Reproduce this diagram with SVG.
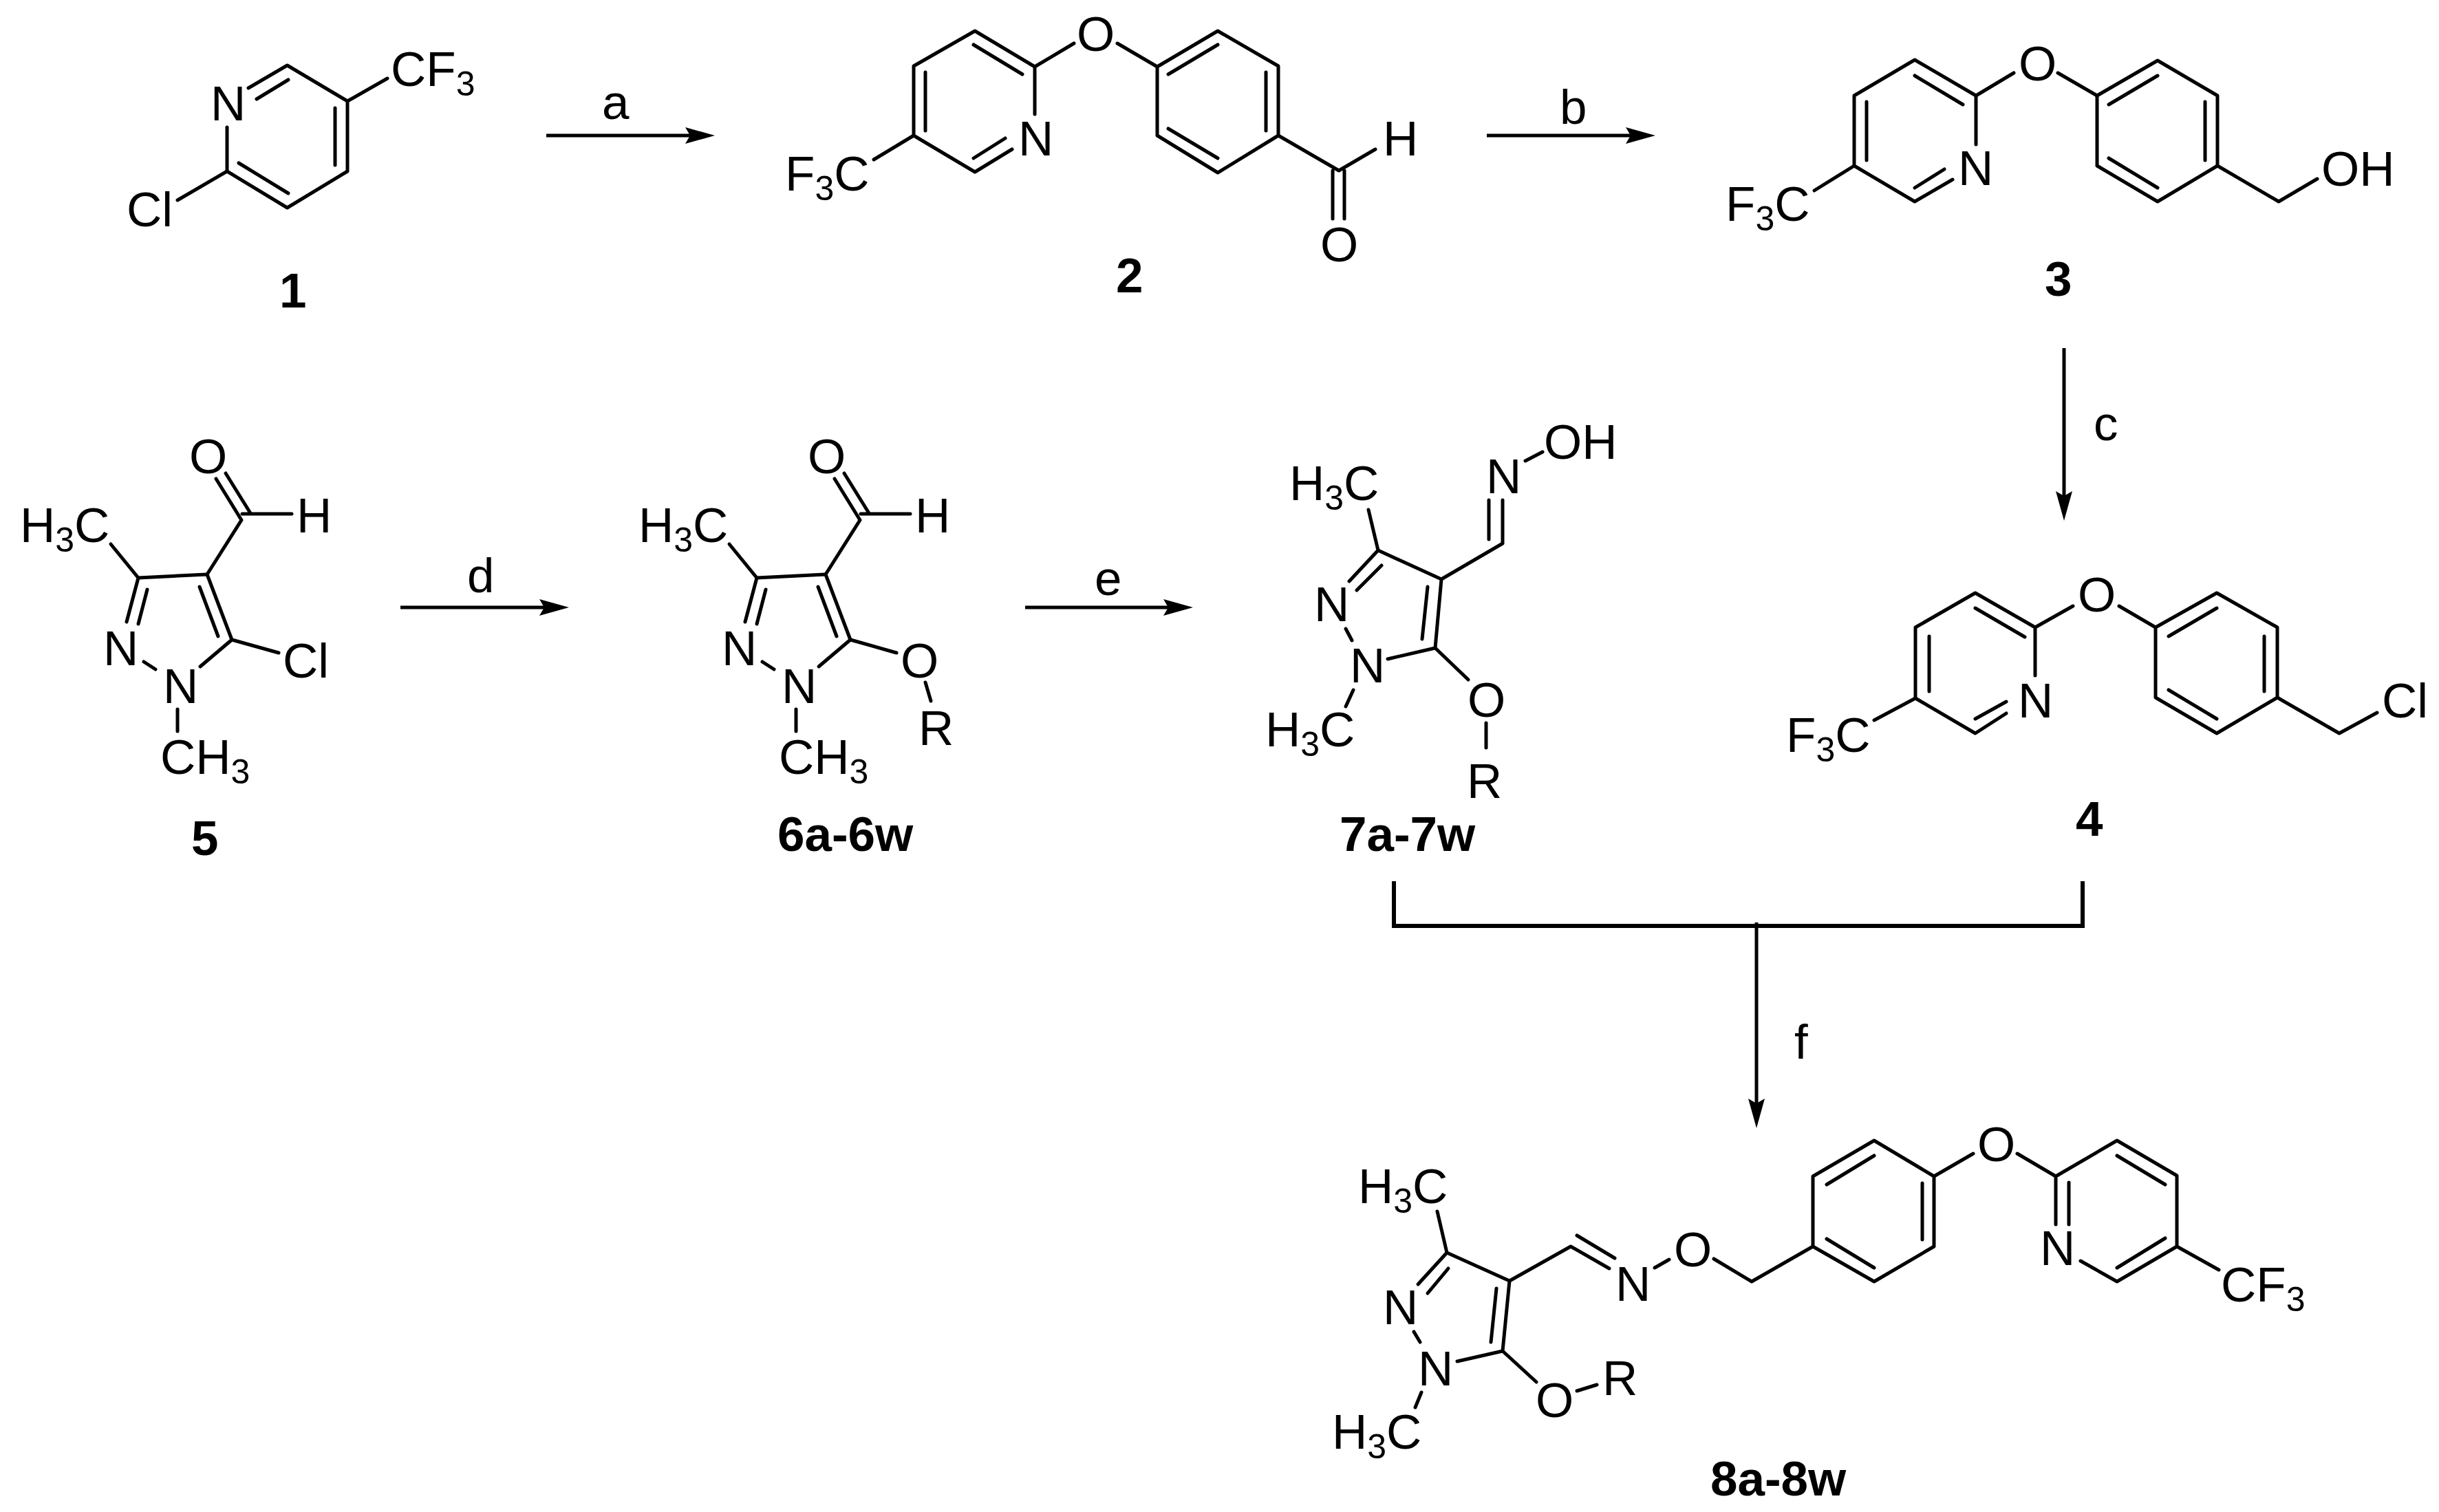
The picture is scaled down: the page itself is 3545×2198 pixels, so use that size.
<svg xmlns="http://www.w3.org/2000/svg" width="3545" height="2198" viewBox="0 0 3545 2198">
<style>
text{font-family:"Liberation Sans",Arial,sans-serif;font-size:71px;fill:#000}
.s{font-size:50px}
.b{font-weight:bold}
path{fill:none;stroke:#000;stroke-width:5;stroke-linecap:round;stroke-linejoin:round}
#connectors path{stroke-linecap:butt;stroke-linejoin:miter}
#connectors .bracket{stroke-width:6}
marker path{fill:#000;stroke:none}
</style>
<defs>
<marker id="ah" markerUnits="userSpaceOnUse" markerWidth="44" markerHeight="24" refX="7" refY="12" orient="auto">
<path d="M0,0L43,12L0,24L7,12z"/>
</marker>
</defs>
<rect width="3545" height="2198" fill="#fff"/>
<g id="connectors">
<path d="M794,197H1003" marker-end="url(#ah)"/>
<path d="M2161,197H2370" marker-end="url(#ah)"/>
<path d="M3000,506V721" marker-end="url(#ah)"/>
<path d="M582,883H791" marker-end="url(#ah)"/>
<path d="M1490,883H1698" marker-end="url(#ah)"/>
<path class="bracket" d="M2026,1281V1346H3027V1281"/>
<path d="M2553,1341V1604" marker-end="url(#ah)"/>
<text x="875" y="173">a</text>
<text x="2267" y="180">b</text>
<text x="3043" y="640">c</text>
<text x="679" y="861">d</text>
<text x="1591" y="865">e</text>
<text x="2608" y="1539">f</text>
</g>
<g id="node-1">
<path d="M330,185V249L417.5,302L505,249V147L417.5,95L361,128"/>
<path d="M373,144L419,116M487,157V240M347,237L419,281M330,249L258,291M505,147L563,114"/>
<text x="306" y="175">N</text>
<text x="184" y="329">Cl</text>
<text x="568" y="125">CF<tspan class="s" dy="14">3</tspan></text>
<text class="b" x="406" y="447">1</text>
</g>
<g id="node-2">
<path d="M1504,166V97L1417,45L1328,96V197L1417,250L1471,217"/>
<path d="M1415,65L1486,108M1345,105V190M1415,230L1461,201"/>
<path d="M1504,97L1561,63M1624,63L1682,97"/>
<path d="M1682,97L1770,45L1858,96V197L1770,251L1682,197Z"/>
<path d="M1698,108L1770,65M1840,105V190M1698,187L1770,230"/>
<path d="M1858,197L1946,248L1999,217M1937,248V318M1954,248V318"/>
<path d="M1328,197L1270,232"/>
<text x="1480" y="226">N</text>
<text x="1565" y="74">O</text>
<text x="2010" y="226">H</text>
<text x="1919" y="380">O</text>
<text x="1141" y="277">F<tspan class="s" dy="14">3</tspan><tspan dy="-14">C</tspan></text>
<text class="b" x="1622" y="425">2</text>
</g>
<g id="node-3">
<path d="M2872,210V139L2783,87L2695,139V241L2783,293L2838,261"/>
<path d="M2783,110L2853,152M2713,148V233M2783,273L2826,246"/>
<path d="M2872,139L2927,106M2991,106L3048,139"/>
<path d="M3048,139L3136,88L3223,139V241L3136,293L3048,241Z"/>
<path d="M3065,152L3136,110M3205,148V233M3065,230L3136,273"/>
<path d="M3223,241L3312,293L3368,260M2695,241L2637,277"/>
<text x="2846" y="269">N</text>
<text x="2934" y="117">O</text>
<text x="3374" y="270">OH</text>
<text x="2508" y="321">F<tspan class="s" dy="14">3</tspan><tspan dy="-14">C</tspan></text>
<text class="b" x="2972" y="430">3</text>
</g>
<g id="node-4">
<path d="M2958,982V912L2871,862L2784,912V1015L2871,1066L2916,1037"/>
<path d="M2871,884L2943,926M2804,925V1005M2871,1045L2916,1020"/>
<path d="M2958,912L3013,881M3080,881L3133,912"/>
<path d="M3133,912L3222,862L3310,912V1014L3222,1066L3133,1014Z"/>
<path d="M3152,925L3222,884M3291,925V1005M3152,1003L3222,1045"/>
<path d="M3310,1014L3400,1066L3455,1036M2784,1015L2724,1047"/>
<text x="2933" y="1043">N</text>
<text x="3020" y="889">O</text>
<text x="3462" y="1043">Cl</text>
<text x="2596" y="1093">F<tspan class="s" dy="14">3</tspan><tspan dy="-14">C</tspan></text>
<text class="b" x="3017" y="1215">4</text>
</g>
<g id="node-5">
<path d="M184,904L201,840L301,835L337,930L291,969M214,857L201,907M290,853L317,925"/>
<path d="M209,962L226,973M201,840L161,791"/>
<path d="M301,835L351,756L314,696M328,688L364,746M352,747H424"/>
<path d="M337,930L405,949M258,1031V1063"/>
<text x="29" y="788">H<tspan class="s" dy="14">3</tspan><tspan dy="-14">C</tspan></text>
<text x="431" y="774">H</text>
<text x="275" y="688">O</text>
<text x="150" y="967">N</text>
<text x="237" y="1022">N</text>
<text x="411" y="985">Cl</text>
<text x="233" y="1125">CH<tspan class="s" dy="14">3</tspan></text>
<text class="b" x="278" y="1243">5</text>
</g>
<g id="node-6">
<path d="M1083,904L1100,840L1200,835L1236,930L1190,969M1113,857L1100,907M1189,853L1216,925"/>
<path d="M1108,962L1125,973M1100,840L1060,791"/>
<path d="M1200,835L1250,756L1213,696M1227,688L1263,746M1251,747H1323"/>
<path d="M1236,930L1303,949M1345,992L1353,1019M1157,1031V1063"/>
<text x="928" y="788">H<tspan class="s" dy="14">3</tspan><tspan dy="-14">C</tspan></text>
<text x="1330" y="774">H</text>
<text x="1174" y="688">O</text>
<text x="1049" y="967">N</text>
<text x="1136" y="1022">N</text>
<text x="1309" y="985">O</text>
<text x="1335" y="1083">R</text>
<text x="1132" y="1125">CH<tspan class="s" dy="14">3</tspan></text>
<text class="b" x="1130" y="1237">6a-6w</text>
</g>
<g id="node-7">
<path d="M1961,845L2003,800L2095,842L2086,942L2017,958M2008,822L1972,858M2075,853L2067,929"/>
<path d="M1956,914L1965,931M2003,800L1989,741"/>
<path d="M2095,842L2184,790V727M2164,784V727M2217,670L2242,657"/>
<path d="M1967,1003L1956,1027M2086,942L2134,988M2160,1051V1087"/>
<text x="1874" y="727">H<tspan class="s" dy="14">3</tspan><tspan dy="-14">C</tspan></text>
<text x="2160" y="717">N</text>
<text x="2244" y="667">OH</text>
<text x="1910" y="903">N</text>
<text x="1962" y="992">N</text>
<text x="1839" y="1085">H<tspan class="s" dy="14">3</tspan><tspan dy="-14">C</tspan></text>
<text x="2133" y="1042">O</text>
<text x="2132" y="1160">R</text>
<text class="b" x="1947" y="1237">7a-7w</text>
</g>
<g id="node-8">
<path d="M2061,1867L2103,1821L2194,1862L2184,1964L2118,1979M2105,1844L2075,1880M2175,1873L2167,1951"/>
<path d="M2055,1936L2064,1951M2103,1821L2089,1761"/>
<path d="M2194,1862L2283,1812L2339,1844M2292,1796L2347,1829M2405,1843L2426,1831"/>
<path d="M2491,1830L2546,1863L2635,1812"/>
<path d="M2635,1812V1710L2724,1658L2811,1710V1812L2724,1863Z"/>
<path d="M2655,1722L2724,1680M2794,1720V1802M2655,1801L2724,1843"/>
<path d="M2811,1710L2868,1677M2932,1677L2988,1710"/>
<path d="M2988,1780V1710L3077,1658L3164,1709V1812L3077,1863L3024,1833"/>
<path d="M3007,1719V1780M3077,1680L3147,1722M3077,1843L3147,1800M3164,1812L3225,1846"/>
<path d="M2184,1964L2233,2009M2292,2022L2321,2013M2066,2024L2057,2046"/>
<text x="1974" y="1749">H<tspan class="s" dy="14">3</tspan><tspan dy="-14">C</tspan></text>
<text x="2348" y="1891">N</text>
<text x="2433" y="1841">O</text>
<text x="2874" y="1688">O</text>
<text x="2965" y="1839">N</text>
<text x="3228" y="1892">CF<tspan class="s" dy="14">3</tspan></text>
<text x="2010" y="1925">N</text>
<text x="2061" y="2014">N</text>
<text x="1936" y="2106">H<tspan class="s" dy="14">3</tspan><tspan dy="-14">C</tspan></text>
<text x="2232" y="2060">O</text>
<text x="2329" y="2028">R</text>
<text class="b" x="2486" y="2174">8a-8w</text>
</g>
</svg>
